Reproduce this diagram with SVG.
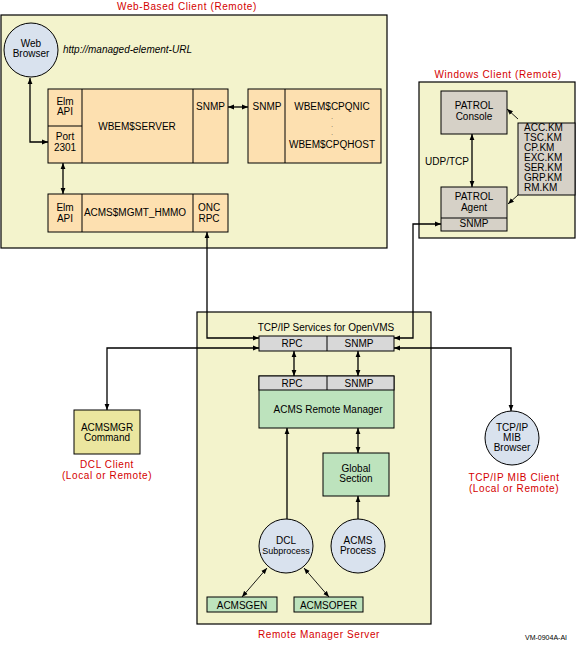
<svg xmlns="http://www.w3.org/2000/svg" width="576" height="654" viewBox="0 0 576 654">
<style>
text{font-family:"Liberation Sans",Arial,sans-serif;font-size:10px;fill:#000;text-anchor:middle}
.t{fill:#d40000;letter-spacing:0.6px}
.sm{font-size:9px}
.dot{font-size:6px}
.km{text-anchor:start}
.bg{fill:#f3f3cc;stroke:#000;stroke-width:1.2}
.pe{fill:#fde0b0;stroke:#000;stroke-width:1}
.gr{fill:#d8d8d8;stroke:#000;stroke-width:1}
.pa{fill:#d6d1c7;stroke:#000;stroke-width:1}
.gn{fill:#bde3bd;stroke:#000;stroke-width:1}
.ye{fill:#ebe69f;stroke:#000;stroke-width:1}
.ci{fill:#d9e2ee;stroke:#000;stroke-width:1}
.ln{fill:none;stroke:#000;stroke-width:1}
.c{fill:none;stroke:#000;stroke-width:1.3}
.c2{fill:none;stroke:#000;stroke-width:0.9}
</style>
<defs>
<marker id="a" viewBox="0 0 10 10" refX="10" refY="5" markerWidth="6" markerHeight="6" markerUnits="userSpaceOnUse" orient="auto-start-reverse">
<path d="M0,1 L10,5 L0,9 z" fill="#000"/>
</marker>
</defs>
<g id="web-client">
<rect class="bg" x="1" y="15" width="386" height="233"/>
<text class="t" x="187" y="10">Web-Based Client (Remote)</text>
<text x="63" y="53" style="font-style:italic;text-anchor:start">http://managed-element-URL</text>
</g>
<g id="web-browser">
<circle class="ci" cx="31" cy="50" r="27"/>
<text x="31" y="47">Web</text>
<text x="31" y="57">Browser</text>
</g>
<g id="wbem-server">
<rect class="pe" x="48" y="89" width="180" height="74"/>
<path class="ln" d="M82,89 V163 M193,89 V163 M48,126 H82"/>
<text x="65" y="105">Elm</text>
<text x="65" y="115">API</text>
<text x="65" y="140">Port</text>
<text x="65" y="151">2301</text>
<text x="137" y="130">WBEM$SERVER</text>
<text x="210.5" y="110">SNMP</text>
</g>
<g id="wbem-cpq">
<rect class="pe" x="248" y="89" width="133" height="74"/>
<path class="ln" d="M285,89 V163"/>
<text x="267" y="110">SNMP</text>
<text x="332" y="110">WBEM$CPQNIC</text>
<text class="dot" x="332" y="119">.</text>
<text class="dot" x="332" y="127">.</text>
<text class="dot" x="332" y="135">.</text>
<text x="332" y="148">WBEM$CPQHOST</text>
</g>
<g id="acms-mgmt">
<rect class="pe" x="48" y="194" width="180" height="38"/>
<path class="ln" d="M82,194 V232 M193,194 V232"/>
<text x="65" y="211">Elm</text>
<text x="65" y="222">API</text>
<text x="135" y="216">ACMS$MGMT_HMMO</text>
<text x="209" y="211">ONC</text>
<text x="209" y="222">RPC</text>
</g>
<g id="windows-client">
<rect class="bg" x="419" y="82" width="156" height="156"/>
<text class="t" x="498" y="78">Windows Client (Remote)</text>
<text x="447" y="165">UDP/TCP</text>
</g>
<g id="patrol-console">
<rect class="pa" x="441" y="91" width="66" height="43"/>
<text x="474" y="109">PATROL</text>
<text x="474" y="120">Console</text>
</g>
<g id="km-list">
<rect class="pa" x="518" y="123" width="57" height="72"/>
<text class="km" x="524" y="131">ACC.KM</text>
<text class="km" x="524" y="141">TSC.KM</text>
<text class="km" x="524" y="151">CP.KM</text>
<text class="km" x="524" y="161">EXC.KM</text>
<text class="km" x="524" y="171">SER.KM</text>
<text class="km" x="524" y="181">GRP.KM</text>
<text class="km" x="524" y="191">RM.KM</text>
</g>
<g id="patrol-agent">
<rect class="pa" x="441" y="187" width="66" height="44"/>
<path class="ln" d="M441,218 H507"/>
<text x="474" y="200">PATROL</text>
<text x="474" y="211">Agent</text>
<text x="474" y="227">SNMP</text>
</g>
<g id="remote-manager-server">
<rect class="bg" x="197" y="312" width="234" height="312"/>
<text class="t" x="319" y="638">Remote Manager Server</text>
<text x="326" y="331">TCP/IP Services for OpenVMS</text>
</g>
<g id="tcpip-services">
<rect class="gr" x="259" y="336" width="135" height="15"/>
<path class="ln" d="M327,336 V351"/>
<text x="292" y="347">RPC</text>
<text x="359" y="347">SNMP</text>
</g>
<g id="acms-remote-manager">
<rect class="gn" x="259" y="376" width="135" height="52"/>
<rect class="gr" x="259" y="376" width="135" height="14"/>
<path class="ln" d="M327,376 V390"/>
<text x="292" y="387">RPC</text>
<text x="359" y="387">SNMP</text>
<text x="328" y="413">ACMS Remote Manager</text>
</g>
<g id="global-section">
<rect class="gn" x="323" y="453" width="66" height="43"/>
<text x="356" y="472">Global</text>
<text x="356" y="482">Section</text>
</g>
<g id="dcl-subprocess">
<circle class="ci" cx="286" cy="546" r="27"/>
<text x="286" y="544">DCL</text>
<text class="sm" x="286" y="554">Subprocess</text>
</g>
<g id="acms-process">
<circle class="ci" cx="358" cy="546" r="27"/>
<text x="358" y="544">ACMS</text>
<text x="358" y="554">Process</text>
</g>
<g id="acmsgen">
<rect class="gn" x="207" y="597" width="70" height="15"/>
<text x="242" y="608.5">ACMSGEN</text>
</g>
<g id="acmsoper">
<rect class="gn" x="294" y="597" width="69" height="15"/>
<text x="328.5" y="608.5">ACMSOPER</text>
</g>
<g id="dcl-client">
<rect class="ye" x="74" y="410" width="66" height="44"/>
<text x="107" y="431">ACMSMGR</text>
<text x="107" y="441">Command</text>
<text class="t" x="107" y="468">DCL Client</text>
<text class="t" x="107" y="479">(Local or Remote)</text>
</g>
<g id="mib-browser">
<circle class="ci" cx="512" cy="438" r="27"/>
<text x="512" y="431">TCP/IP</text>
<text x="512" y="441">MIB</text>
<text x="512" y="451">Browser</text>
<text class="t" x="514" y="481">TCP/IP MIB Client</text>
<text class="t" x="514" y="492">(Local or Remote)</text>
</g>
<text x="546" y="640" style="font-size:7px">VM-0904A-AI</text>
<g id="connectors">
<path class="c" d="M30,78 V142 H48" marker-start="url(#a)" marker-end="url(#a)"/>
<path class="c" d="M228,107 H248" marker-start="url(#a)" marker-end="url(#a)"/>
<path class="c" d="M63,163 V194" marker-start="url(#a)" marker-end="url(#a)"/>
<path class="c" d="M207,232 V338 H259" marker-start="url(#a)" marker-end="url(#a)"/>
<path class="c" d="M441,224 H413 V338 H394" marker-start="url(#a)" marker-end="url(#a)"/>
<path class="c" d="M472,134 V187" marker-start="url(#a)" marker-end="url(#a)"/>
<path class="c2" d="M518,119 L507,109" marker-end="url(#a)"/>
<path class="c2" d="M518,195 L508,204" marker-end="url(#a)"/>
<path class="c" d="M259,348 H107 V410" marker-start="url(#a)" marker-end="url(#a)"/>
<path class="c" d="M394,348 H511 V411" marker-start="url(#a)" marker-end="url(#a)"/>
<path class="c" d="M294,351 V376" marker-start="url(#a)" marker-end="url(#a)"/>
<path class="c" d="M358,351 V376" marker-start="url(#a)" marker-end="url(#a)"/>
<path class="c" d="M358,428 V453" marker-start="url(#a)" marker-end="url(#a)"/>
<path class="c" d="M287,428 V519" marker-start="url(#a)"/>
<path class="c" d="M358,519 V496" marker-end="url(#a)"/>
<path class="c2" d="M267,568 L242,597" marker-start="url(#a)" marker-end="url(#a)"/>
<path class="c2" d="M304,568 L329,597" marker-start="url(#a)" marker-end="url(#a)"/>
</g>
</svg>
